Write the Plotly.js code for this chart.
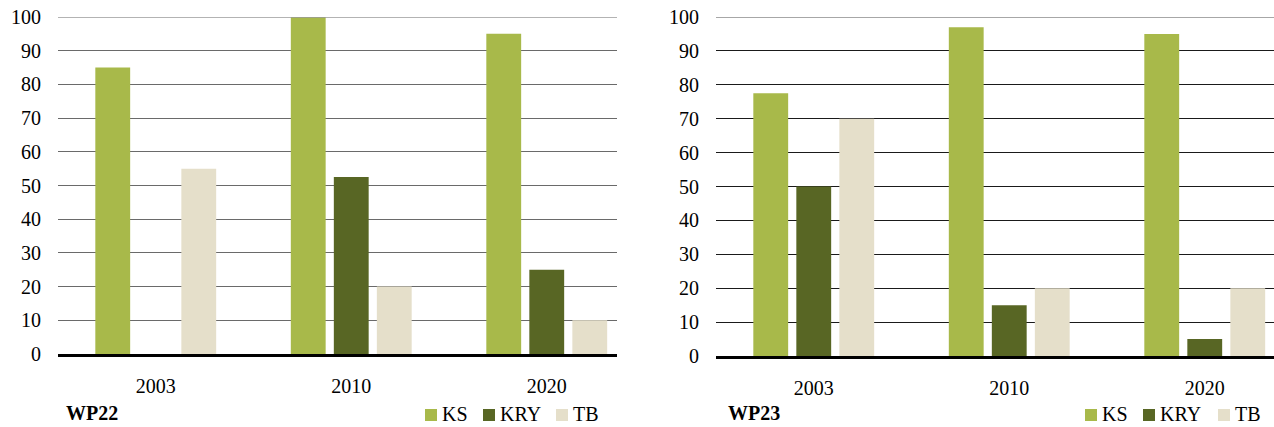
<!DOCTYPE html>
<html>
<head>
<meta charset="utf-8">
<script src="https://cdn.plot.ly/plotly-3.0.1.min.js"></script>
<style>html,body{margin:0;padding:0;background:#fff;}#chart{width:1274px;height:427px;}</style>
</head>
<body>
<div id="chart"></div>
<script>
const years = ['2003', '2010', '2020'];
const seriesNames = ['KS', 'KRY', 'TB'];
const wp22_KS = [85, 100, 95];
const wp22_KRY = [0, 52.5, 25];
const wp22_TB = [55, 20, 10];
const wp23_KS = [77.5, 97, 95];
const wp23_KRY = [50, 15, 5];
const wp23_TB = [70, 20, 20];
const panelTitles = ['WP22', 'WP23'];
const yTicks = [0, 10, 20, 30, 40, 50, 60, 70, 80, 90, 100];

const colors = {KS: '#A8B94A', KRY: '#586624', TB: '#E5DFCA'};
const W = 1274, H = 427;
const serif = '"Liberation Serif", serif';

function mk(name, y, xa, ya) {
  return {
    type: 'bar', name: name, x: years, y: y, xaxis: xa, yaxis: ya,
    showlegend: false, marker: {color: colors[name], line: {width: 0}},
    hoverinfo: 'x+y+name'
  };
}
const data = [
  mk(seriesNames[0], wp22_KS, 'x', 'y'),
  mk(seriesNames[1], wp22_KRY, 'x', 'y'),
  mk(seriesNames[2], wp22_TB, 'x', 'y'),
  mk(seriesNames[0], wp23_KS, 'x2', 'y2'),
  mk(seriesNames[1], wp23_KRY, 'x2', 'y2'),
  mk(seriesNames[2], wp23_TB, 'x2', 'y2')
];

function xax(d0, d1, anchor) {
  return {
    domain: [d0 / W, d1 / W], anchor: anchor, type: 'category',
    range: [-0.5, -0.5 + (d1 - d0) / 195.5],
    showline: true, linecolor: '#000', linewidth: 3,
    showgrid: false, zeroline: false, ticks: '',
    tickfont: {family: serif, size: 20, color: '#000'},
    ticklabelstandoff: 12, fixedrange: true
  };
}
function yax(top, bottom, anchor, grid) {
  return {
    domain: [1 - bottom / H, 1 - top / H], anchor: anchor,
    range: [0, 100], tickvals: yTicks, ticktext: yTicks.map(String),
    showline: false, zeroline: false, showgrid: true,
    gridcolor: grid, gridwidth: 1.3, ticks: '',
    tickfont: {family: serif, size: 20, color: '#000'},
    ticklabelstandoff: 16, fixedrange: true
  };
}

const shapes = [
  {type: 'line', xref: 'x domain', yref: 'y', x0: 0, x1: 1, y0: 100, y1: 100, line: {color: '#9a9a9a', width: 1.5}},
  {type: 'line', xref: 'x2 domain', yref: 'y2', x0: 0, x1: 1, y0: 100, y1: 100, line: {color: '#8a8a8a', width: 1.5}}
];
const annotations = [
  {text: '<b>' + panelTitles[0] + '</b>', xref: 'paper', yref: 'paper', x: 64 / W, y: 1 - 413 / H,
   xanchor: 'left', yanchor: 'middle', showarrow: false, font: {family: serif, size: 20, color: '#000'}},
  {text: '<b>' + panelTitles[1] + '</b>', xref: 'paper', yref: 'paper', x: 726 / W, y: 1 - 413 / H,
   xanchor: 'left', yanchor: 'middle', showarrow: false, font: {family: serif, size: 20, color: '#000'}}
];
// custom legends (square + label), one per panel
const legendSquareX = [[425, 483, 556], [1085, 1143, 1218]];
legendSquareX.forEach(function (row) {
  row.forEach(function (sx, i) {
    shapes.push({type: 'rect', xref: 'paper', yref: 'paper',
      x0: sx / W, x1: (sx + 12) / W, y0: 1 - 421 / H, y1: 1 - 409 / H,
      fillcolor: colors[seriesNames[i]], line: {width: 0}});
    annotations.push({text: seriesNames[i], xref: 'paper', yref: 'paper',
      x: (sx + 15) / W, y: 1 - 414 / H, xanchor: 'left', yanchor: 'middle',
      showarrow: false, font: {family: serif, size: 20, color: '#000'}});
  });
});

const layout = {
  width: W, height: H,
  margin: {l: 0, r: 0, t: 0, b: 0, pad: 0, autoexpand: false},
  paper_bgcolor: '#fff', plot_bgcolor: '#fff',
  barmode: 'group', bargap: 0.34, bargroupgap: 0.19,
  showlegend: false,
  font: {family: serif},
  xaxis: xax(58, 617, 'y'),
  yaxis: yax(17, 354, 'x', '#6a6a6a'),
  xaxis2: xax(716, 1274, 'y2'),
  yaxis2: yax(17, 356, 'x2', '#1a1a1a'),
  shapes: shapes,
  annotations: annotations
};
Plotly.newPlot('chart', data, layout, {displayModeBar: false, staticPlot: false});
</script>
</body>
</html>
